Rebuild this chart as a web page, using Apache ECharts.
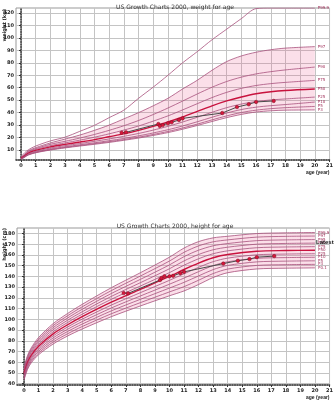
<!DOCTYPE html>
<html>
<head>
<meta charset="utf-8">
<script src="https://cdn.jsdelivr.net/npm/echarts@6/dist/echarts.min.js"></script>
<style>
  html, body { margin: 0; padding: 0; background: #fff; }
  #chart { width: 336px; height: 400px; }
</style>
</head>
<body>
<div id="chart"></div>
<script>
// ---- weight for age (kg) ----
const weightAges = [0, 0.25, 0.5, 1, 2, 3, 4, 5, 6, 7, 8, 9, 10, 11, 12, 13, 14, 15, 16, 17, 18, 20];
const weightP999 = [4.6, 7.8, 10.2, 13.2, 17.3, 20.3, 25, 29.8, 36, 42, 51.5, 60.5, 70, 80, 89, 98.5, 107, 115.5, 123.5, 124, 124, 124];
const weightP97 = [4.3, 6.5, 9.4, 11.9, 15.7, 18.8, 22, 25.8, 30, 35, 40, 45.5, 51.5, 59, 66, 74, 81, 85.5, 88.5, 90.5, 91.8, 93];
const weightP90 = [4.0, 6.1, 8.8, 11.1, 14.6, 17.0, 19.6, 22.5, 25.8, 29.5, 33.7, 38.5, 43.7, 49.3, 55.0, 60.4, 65.0, 68.5, 71.1, 72.9, 74.3, 76.6];
const weightP75 = [3.7, 5.7, 8.2, 10.4, 13.5, 15.7, 17.9, 20.3, 23.0, 26.0, 29.3, 33.2, 37.4, 42.2, 47.2, 52.1, 56.3, 59.5, 61.8, 63.3, 64.3, 65.9];
const weightP50 = [3.4, 5.3, 7.6, 9.7, 12.5, 14.5, 16.4, 18.4, 20.7, 23.0, 25.8, 29.0, 32.5, 36.5, 41.0, 45.5, 49.4, 52.6, 55.2, 56.8, 57.8, 59.0];
const weightP25 = [3.1, 5.0, 7.0, 9.0, 11.6, 13.5, 15.2, 17.0, 18.9, 21.0, 23.3, 26.0, 29.0, 32.5, 36.3, 40.3, 44.0, 46.9, 48.9, 50.2, 51.0, 52.5];
const weightP10 = [2.8, 4.6, 6.5, 8.4, 10.8, 12.6, 14.2, 15.8, 17.5, 19.3, 21.4, 23.7, 26.3, 29.3, 32.7, 36.3, 39.7, 42.5, 44.4, 45.6, 46.5, 48.5];
const weightP5 = [2.5, 4.4, 6.2, 8.0, 10.3, 12.1, 13.6, 15.1, 16.7, 18.4, 20.3, 22.5, 24.9, 27.7, 30.8, 34.2, 37.4, 40.1, 42.0, 43.2, 44.0, 45.0];
const weightP3 = [2.4, 4.2, 6.0, 7.8, 10.0, 11.7, 13.2, 14.6, 16.1, 17.8, 19.6, 21.7, 24.0, 26.7, 29.7, 32.9, 36.0, 38.6, 40.5, 41.5, 42.0, 42.2];

// ---- height for age (cm) ----
const heightAges = [0, 0.25, 0.5, 1, 2, 3, 4, 6, 8, 10, 11, 12, 13, 14, 16, 18, 20];
const heightP999 = [55.5, 66.5, 73.5, 83, 96, 105.5, 114, 129.5, 143.5, 158, 166.5, 172.5, 176, 177.5, 180, 180.7, 181];
const heightP97 = [54.3, 65.2, 72.1, 81.4, 94.1, 103.4, 111.7, 126.8, 140.4, 154.4, 162.5, 168.5, 172.3, 174.1, 176.7, 177.4, 177.7];
const heightP95 = [53.1, 63.9, 70.7, 79.8, 92.2, 101.3, 109.4, 124.1, 137.3, 150.8, 158.5, 164.5, 168.6, 170.7, 173.4, 174.1, 174.4];
const heightP90 = [51.9, 62.6, 69.3, 78.2, 90.3, 99.2, 107.1, 121.4, 134.2, 147.2, 154.5, 160.5, 164.9, 167.3, 170.1, 170.8, 171.1];
const heightP75 = [50.7, 61.3, 67.9, 76.6, 88.4, 97.1, 104.8, 118.7, 131.1, 143.6, 150.5, 156.5, 161.2, 163.9, 166.8, 167.5, 167.8];
const heightP50 = [49.5, 60, 66.5, 75, 86.5, 95, 102.5, 116, 128, 140, 146.5, 152.5, 157.5, 160.5, 163.5, 164.2, 164.5];
const heightP25 = [48.3, 58.7, 65.1, 73.4, 84.6, 92.9, 100.2, 113.3, 124.9, 136.4, 142.5, 148.5, 153.8, 157.1, 160.2, 160.9, 161.2];
const heightP10 = [47.1, 57.4, 63.7, 71.8, 82.7, 90.8, 97.9, 110.6, 121.8, 132.8, 138.5, 144.5, 150.1, 153.7, 156.9, 157.6, 157.9];
const heightP5 = [45.9, 56.1, 62.3, 70.2, 80.8, 88.7, 95.6, 107.9, 118.7, 129.2, 134.5, 140.5, 146.4, 150.3, 153.6, 154.3, 154.6];
const heightP3 = [44.7, 54.8, 60.9, 68.6, 78.9, 86.6, 93.3, 105.2, 115.6, 125.6, 130.5, 136.5, 142.7, 146.9, 150.3, 151, 151.3];
const heightP01 = [43.5, 53.5, 59.5, 67, 77, 84.5, 91, 102.5, 112.5, 122, 126.5, 132.5, 139, 143.5, 147, 147.7, 148];

// ---- patient measurements ----
const visitAges = [6.85, 7.15, 9.35, 9.45, 9.65, 10.0, 10.25, 10.75, 11.0, 13.7, 14.7, 15.5, 16.0, 17.2];
const visitWeights = [23.9, 24.2, 30.9, 29.3, 30.0, 31.4, 32.2, 34.1, 35.4, 39.7, 44.5, 46.7, 48.6, 49.4];
const visitHeights = [124.5, 124.2, 136.7, 138.5, 140.1, 140.1, 140.6, 143.1, 144.3, 152.0, 154.7, 156.2, 158.0, 159.0];

// ---- tick labels ----
const ageTicks = [0, 1, 2, 3, 4, 5, 6, 7, 8, 9, 10, 11, 12, 13, 14, 15, 16, 17, 18, 19, 20, 21];
const weightTicks = [10, 20, 30, 40, 50, 60, 70, 80, 90, 100, 110, 120];
const heightTicks = [40, 50, 60, 70, 80, 90, 100, 110, 120, 130, 140, 150, 160, 170, 180];

const weightCurves = [
  ['P99.9', weightP999], ['P97', weightP97], ['P90', weightP90], ['P75', weightP75], ['P50', weightP50],
  ['P25', weightP25], ['P10', weightP10], ['P5', weightP5], ['P3', weightP3]
];
const heightCurves = [
  ['P99.9', heightP999], ['P97', heightP97], ['P95', heightP95], ['P90', heightP90], ['P75', heightP75],
  ['P50', heightP50], ['P25', heightP25], ['P10', heightP10], ['P5', heightP5], ['P3', heightP3], ['P0.1', heightP01]
];

const lineColor = '#a8507c';
const medianColor = '#c8123e';
const bandColor = 'rgba(236, 96, 146, 0.2)';

const pairs = (xs, ys) => xs.map((x, i) => [x, ys[i]]);

function curveSeries(curves, ages, idx) {
  return curves.map(([name, vals]) => ({
    name,
    type: 'line',
    xAxisIndex: idx,
    yAxisIndex: idx,
    data: pairs(ages, vals),
    smooth: 0.3,
    symbol: 'none',
    silent: true,
    z: 3,
    lineStyle: { color: name === 'P50' ? medianColor : lineColor, width: name === 'P50' ? 1.4 : 0.8 },
    endLabel: { show: true, formatter: name, fontSize: 4, color: '#a0305a', distance: 3, fontFamily: 'DejaVu Sans' }
  }));
}

// shaded band between two percentile curves, drawn through the axis scales
function bandSeries(lower, upper, ages, idx) {
  return {
    type: 'custom',
    xAxisIndex: idx,
    yAxisIndex: idx,
    silent: true,
    z: 1,
    data: [[ages[0], lower[0]]],
    renderItem: (params, api) => {
      const top = ages.map((a, i) => api.coord([a, upper[i]]));
      const bottom = ages.map((a, i) => api.coord([a, lower[i]])).reverse();
      return {
        type: 'polygon',
        shape: { points: top.concat(bottom) },
        style: { fill: bandColor }
      };
    }
  };
}

function visitSeries(values, idx) {
  return {
    name: 'patient',
    type: 'line',
    xAxisIndex: idx,
    yAxisIndex: idx,
    data: pairs(visitAges, values),
    symbol: 'circle',
    symbolSize: 3.5,
    z: 5,
    itemStyle: { color: '#d8163c', borderColor: '#7a1020', borderWidth: 0.5 },
    lineStyle: { color: '#4a4a4a', width: 1 }
  };
}

const tickFont = { fontSize: 5, fontWeight: 'bold', color: '#222', fontFamily: 'DejaVu Sans' };

function xAxisCfg(idx, min) {
  return {
    type: 'value', gridIndex: idx, min, max: 21,
    name: 'age (year)', nameLocation: 'end', nameGap: 0,
    nameTextStyle: { fontSize: 5, fontWeight: 'bold', color: '#222', align: 'right', verticalAlign: 'top', padding: [10, 0, 0, 0] },
    axisLine: { show: true, lineStyle: { color: '#333', width: 1.5, type: [1, 1.5] } },
    axisTick: { show: true, customValues: ageTicks, length: 2, lineStyle: { color: '#333' } },
    axisLabel: { customValues: ageTicks, margin: 3, ...tickFont },
    splitLine: { show: true, lineStyle: { color: '#c4c4c4', width: 1 } }
  };
}

function yAxisCfg(idx, min, max, ticks) {
  return {
    type: 'value', gridIndex: idx, min, max,
    axisLine: { show: true, lineStyle: { color: '#333', width: 1.5, type: [1, 1.5] } },
    axisTick: { show: true, customValues: ticks, length: 2, lineStyle: { color: '#333' } },
    axisLabel: { customValues: ticks, margin: 2, ...tickFont },
    splitLine: { show: true, lineStyle: { color: '#c4c4c4', width: 1 } }
  };
}

const chart = echarts.init(document.getElementById('chart'));

chart.setOption({
  animation: false,
  backgroundColor: '#fff',
  title: [
    { text: 'US Growth Charts 2000, weight for age', left: 170, top: -1, textAlign: 'center',
      textStyle: { fontSize: 6, fontWeight: 'normal', color: '#333', fontFamily: 'DejaVu Sans' } },
    { text: 'US Growth Charts 2000, height for age', left: 170, top: 218, textAlign: 'center',
      textStyle: { fontSize: 6, fontWeight: 'normal', color: '#333', fontFamily: 'DejaVu Sans' } }
  ],
  grid: [
    { left: 16, top: 8, width: 315, height: 152, show: true, borderColor: '#999', borderWidth: 1 },
    { left: 17, top: 228, width: 314, height: 160, show: true, borderColor: '#999', borderWidth: 1 }
  ],
  xAxis: [xAxisCfg(0, -0.34), xAxisCfg(1, -0.48)],
  yAxis: [yAxisCfg(0, 2, 124, weightTicks), yAxisCfg(1, 38.8, 185.2, heightTicks)],
  graphic: [
    { type: 'text', x: 7, y: 9, rotation: Math.PI / 2,
      style: { text: 'weight (kg)', fontSize: 5, fontWeight: 'bold', fill: '#222', align: 'right', verticalAlign: 'bottom', fontFamily: 'DejaVu Sans' } },
    { type: 'text', x: 7, y: 228, rotation: Math.PI / 2,
      style: { text: 'height (cm)', fontSize: 5, fontWeight: 'bold', fill: '#222', align: 'right', verticalAlign: 'bottom', fontFamily: 'DejaVu Sans' } },
    { type: 'text', x: 316, y: 239, z: 10,
      style: { text: 'Latest', fontSize: 6, fontWeight: 'bold', fill: '#111', fontFamily: 'Liberation Sans Narrow, Liberation Sans' } }
  ],
  series: [
    bandSeries(weightP3, weightP97, weightAges, 0),
    ...curveSeries(weightCurves, weightAges, 0),
    visitSeries(visitWeights, 0),
    bandSeries(heightP01, heightP999, heightAges, 1),
    ...curveSeries(heightCurves, heightAges, 1),
    visitSeries(visitHeights, 1)
  ]
});

window.addEventListener('resize', () => chart.resize());
</script>
</body>
</html>
